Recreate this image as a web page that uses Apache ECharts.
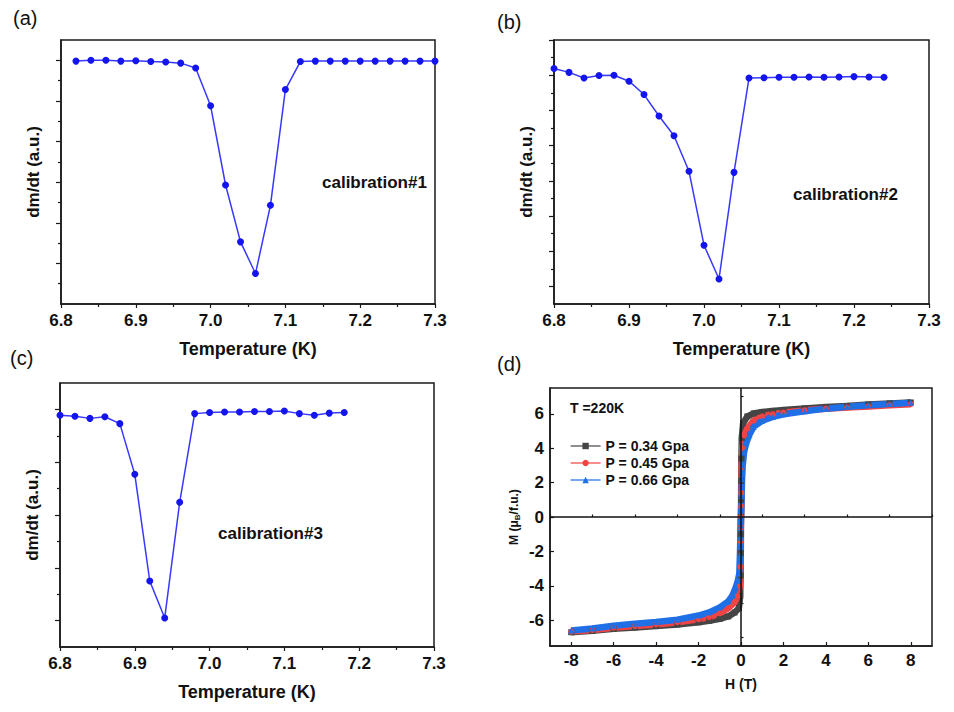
<!DOCTYPE html>
<html>
<head>
<meta charset="utf-8">
<title>dm/dt calibration and M(H)</title>
<script src="https://cdn.jsdelivr.net/npm/echarts@6/dist/echarts.min.js"></script>
<style>html,body{margin:0;padding:0;background:#fff;}</style>
</head>
<body>
<div id="main" style="width:954px;height:712px;"></div>
<script>
// ---- data ----
// (a) calibration#1
var tempA = [6.82, 6.84, 6.86, 6.88, 6.90, 6.92, 6.94, 6.96, 6.98, 7.00, 7.02, 7.04, 7.06,
             7.08, 7.10, 7.12, 7.14, 7.16, 7.18, 7.20, 7.22, 7.24, 7.26, 7.28, 7.30];
var dmdtA = [5.98, 6.00, 6.00, 5.98, 5.99, 5.97, 5.96, 5.93, 5.81, 4.88, 2.93, 1.53, 0.75,
             2.43, 5.28, 5.97, 5.98, 5.98, 5.98, 5.98, 5.98, 5.98, 5.98, 5.98, 5.98];
// (b) calibration#2
var tempB = [6.80, 6.82, 6.84, 6.86, 6.88, 6.90, 6.92, 6.94, 6.96, 6.98, 7.00, 7.02,
             7.04, 7.06, 7.08, 7.10, 7.12, 7.14, 7.16, 7.18, 7.20, 7.22, 7.24];
var dmdtB = [6.19, 6.08, 5.92, 5.99, 6.00, 5.83, 5.45, 4.84, 4.28, 3.27, 1.17, 0.21,
             3.24, 5.92, 5.93, 5.94, 5.94, 5.95, 5.94, 5.95, 5.96, 5.95, 5.94];
// (c) calibration#3
var tempC = [6.80, 6.82, 6.84, 6.86, 6.88, 6.90, 6.92, 6.94, 6.96, 6.98,
             7.00, 7.02, 7.04, 7.06, 7.08, 7.10, 7.12, 7.14, 7.16, 7.18];
var dmdtC = [3.89, 3.87, 3.83, 3.86, 3.73, 2.77, 0.75, 0.05, 2.24, 3.92,
             3.94, 3.95, 3.95, 3.96, 3.96, 3.97, 3.92, 3.89, 3.93, 3.94];

// (d) M(H) at T=220K
var field034 = [-8, -7, -6, -5, -4, -3, -2, -1.5, -1, -0.6, -0.3, -0.1, -0.04, -0.02, -0.01, -0.005,
                0, 0.005, 0.01, 0.02, 0.04, 0.1, 0.3, 0.6, 1, 1.5, 2, 3, 4, 5, 6, 7, 8];
var moment034 = [-6.70, -6.62, -6.50, -6.42, -6.34, -6.25, -6.12, -6.04, -5.92, -5.78, -5.55, -5.30, -4.60, -3.40, -2.10, -1.00,
                 0, 1.00, 2.10, 3.40, 4.60, 5.45, 5.85, 6.02, 6.10, 6.17, 6.22, 6.31, 6.39, 6.46, 6.54, 6.60, 6.66];
var field045 = [-8, -7, -6, -5, -4, -3, -2, -1.5, -1, -0.6, -0.3, -0.15, -0.06, -0.03, -0.02, -0.01,
                0, 0.01, 0.02, 0.03, 0.06, 0.15, 0.3, 0.6, 1, 1.5, 2, 3, 4, 5, 6, 7, 8];
var moment045 = [-6.66, -6.57, -6.44, -6.34, -6.25, -6.12, -5.95, -5.82, -5.60, -5.30, -4.95, -4.60, -4.00, -2.90, -1.40, -0.60,
                 0, 0.60, 1.40, 2.90, 4.00, 4.75, 5.15, 5.60, 5.85, 5.98, 6.07, 6.20, 6.30, 6.36, 6.43, 6.50, 6.56];
var field066 = [-8, -7, -6, -5, -4, -3, -2, -1.5, -1, -0.6, -0.4, -0.25, -0.15, -0.08, -0.05, -0.03, -0.015,
                0, 0.015, 0.03, 0.05, 0.08, 0.15, 0.25, 0.4, 0.6, 1, 1.5, 2, 3, 4, 5, 6, 7, 8];
var moment066 = [-6.60, -6.48, -6.32, -6.20, -6.10, -5.97, -5.73, -5.55, -5.25, -4.90, -4.55, -4.10, -3.70, -3.30, -2.20, -1.20, -0.50,
                 0, 0.50, 1.20, 2.20, 3.00, 3.80, 4.30, 4.80, 5.25, 5.60, 5.82, 5.97, 6.15, 6.30, 6.41, 6.50, 6.57, 6.64];

var legendNames = ['P = 0.34 Gpa', 'P = 0.45 Gpa', 'P = 0.66 Gpa'];
var fieldTicks = [-8, -6, -4, -2, 0, 2, 4, 6, 8];
var fieldMinor = [-9, -7, -5, -3, -1, 1, 3, 5, 7, 9];
var momentTicks = [-6, -4, -2, 0, 2, 4, 6];
var momentMinor = [-7, -5, -3, -1, 1, 3, 5, 7];

var FONT = '"Liberation Sans", Arial, sans-serif';
var AXIS = '#1a1a1a';

function zip(xs, ys) {
  var out = [];
  for (var i = 0; i < xs.length; i++) out.push([xs[i], ys[i]]);
  return out;
}

// temperature x axis used by panels a-c
function tempAxis(g) {
  return {
    gridIndex: g, type: 'value', min: 6.8, max: 7.3, interval: 0.1,
    name: 'Temperature (K)', nameLocation: 'middle', nameGap: 36,
    nameTextStyle: { fontFamily: FONT, fontWeight: 'bold', fontSize: 18, color: '#111' },
    axisLine: { onZero: false, lineStyle: { color: AXIS, width: 1.5 } },
    axisTick: { length: 4, lineStyle: { color: AXIS, width: 1.2 } },
    minorTick: { show: true, splitNumber: 2, length: 3, lineStyle: { color: AXIS, width: 1.2 } },
    axisLabel: { margin: 8, fontFamily: FONT, fontWeight: 'bold', fontSize: 17, color: '#111',
                 formatter: function (v) { return v.toFixed(1); } },
    splitLine: { show: false }
  };
}

// dm/dt y axis (no labels) + an overlay axis that only carries the short ticks
function dmdtAxes(g, lo, hi, major, minor) {
  return [{
    gridIndex: g, type: 'value', min: lo, max: hi, interval: 0.5,
    name: 'dm/dt (a.u.)', nameLocation: 'middle', nameGap: 19, nameRotate: 90,
    nameTextStyle: { fontFamily: FONT, fontWeight: 'bold', fontSize: 17, color: '#111' },
    axisLine: { onZero: false, lineStyle: { color: AXIS, width: 1.5 } },
    axisTick: { length: 5, customValues: major, lineStyle: { color: AXIS, width: 1.2 } },
    axisLabel: { show: false },
    splitLine: { show: false }
  }, {
    gridIndex: g, type: 'value', min: lo, max: hi, interval: 0.5, position: 'left',
    axisLine: { show: false },
    axisTick: { length: 3, customValues: minor, lineStyle: { color: AXIS, width: 1.2 } },
    axisLabel: { show: false },
    splitLine: { show: false }
  }];
}

function calSeries(g, ya, xs, ys) {
  return {
    type: 'line', xAxisIndex: g, yAxisIndex: ya, data: zip(xs, ys),
    symbol: 'circle', symbolSize: 7, clip: false,
    itemStyle: { color: '#1414ee' },
    lineStyle: { color: '#3838ff', width: 1.5 }
  };
}

var box = { show: true, borderColor: AXIS, borderWidth: 1.5, backgroundColor: 'transparent',
            containLabel: false, outerBoundsMode: 'none' };

var yA = dmdtAxes(0, 0, 6.5, [1, 2, 3, 4, 5, 6], [0.5, 1.5, 2.5, 3.5, 4.5, 5.5]);
var yB = dmdtAxes(1, -0.5, 7, [0, 1, 2, 3, 4, 5, 6, 7], [0.5, 1.5, 2.5, 3.5, 4.5, 5.5, 6.5]);
var yC = dmdtAxes(2, -0.5, 4.5, [0, 1, 2, 3, 4], [0.5, 1.5, 2.5, 3.5]);

var symbols = ['rect', 'circle', 'triangle'];
var colors = ['#454545', '#f04444', '#1f6fe6'];
var fields = [field034, field045, field066];
var moments = [moment034, moment045, moment066];
var mhSeries = [];
for (var k = 0; k < 3; k++) {
  mhSeries.push({
    name: legendNames[k], type: 'line', xAxisIndex: 3, yAxisIndex: 6,
    data: zip(fields[k], moments[k]),
    symbol: symbols[k], symbolSize: 6,
    itemStyle: { color: colors[k] },
    lineStyle: { color: colors[k], width: 6.5 }
  });
}
// zero lines
mhSeries[0].markLine = {
  silent: true, symbol: ['none', 'none'], label: { show: false },
  lineStyle: { color: '#111', width: 1.5, type: 'solid' },
  data: [{ xAxis: 0 }, { yAxis: 0 }]
};

var myChart = echarts.init(document.getElementById('main'), null, { renderer: 'svg' });

var option = {
  animation: false,
  backgroundColor: '#fff',
  grid: [
    Object.assign({ left: 61, top: 40, width: 374, height: 264 }, box),
    Object.assign({ left: 554, top: 40, width: 375, height: 264 }, box),
    Object.assign({ left: 60, top: 383, width: 374, height: 264 }, box),
    Object.assign({ left: 550, top: 388, width: 382, height: 258 }, box)
  ],
  xAxis: [
    tempAxis(0), tempAxis(1), tempAxis(2),
    {
      gridIndex: 3, type: 'value', min: -9, max: 9, interval: 1,
      name: 'H (T)', nameLocation: 'middle', nameGap: 31,
      nameTextStyle: { fontFamily: FONT, fontWeight: 'bold', fontSize: 14, color: '#111' },
      axisLine: { onZero: false, lineStyle: { color: AXIS, width: 1.5 } },
      axisTick: { inside: true, length: 4, customValues: fieldTicks, lineStyle: { color: AXIS, width: 1.2 } },
      axisLabel: { customValues: fieldTicks, margin: 6, fontFamily: FONT, fontWeight: 'bold', fontSize: 17, color: '#111' },
      splitLine: { show: false }
    },
    {
      gridIndex: 3, type: 'value', min: -9, max: 9, interval: 1, position: 'bottom',
      axisLine: { show: false },
      axisTick: { inside: true, length: 2.5, customValues: fieldMinor, lineStyle: { color: AXIS, width: 1.2 } },
      axisLabel: { show: false },
      splitLine: { show: false }
    }
  ],
  yAxis: [
    yA[0], yA[1], yB[0], yB[1], yC[0], yC[1],
    {
      gridIndex: 3, type: 'value', min: -7.5, max: 7.5, interval: 0.5,
      name: 'M (μ{sub|B}/f.u.)', nameLocation: 'middle', nameGap: 29, nameRotate: 90,
      nameTextStyle: { fontFamily: FONT, fontWeight: 'bold', fontSize: 12, color: '#111',
        rich: { sub: { fontFamily: FONT, fontWeight: 'bold', fontSize: 8, color: '#111', padding: [6, 0, 0, 0] } } },
      axisLine: { onZero: false, lineStyle: { color: AXIS, width: 1.5 } },
      axisTick: { inside: true, length: 4, customValues: momentTicks, lineStyle: { color: AXIS, width: 1.2 } },
      axisLabel: { customValues: momentTicks, margin: 6, fontFamily: FONT, fontWeight: 'bold', fontSize: 17, color: '#111' },
      splitLine: { show: false }
    },
    {
      gridIndex: 3, type: 'value', min: -7.5, max: 7.5, interval: 0.5, position: 'left',
      axisLine: { show: false },
      axisTick: { inside: true, length: 2.5, customValues: momentMinor, lineStyle: { color: AXIS, width: 1.2 } },
      axisLabel: { show: false },
      splitLine: { show: false }
    }
  ],
  legend: {
    data: legendNames, orient: 'vertical', left: 565, top: 434,
    itemWidth: 30, itemHeight: 8, itemGap: 3,
    lineStyle: { width: 1.2 },
    textStyle: { fontFamily: FONT, fontWeight: 'bold', fontSize: 14, color: '#111' }
  },
  graphic: [
    { type: 'text', left: 13, top: 8, style: { text: '(a)', fontFamily: FONT, fontSize: 20, fill: '#111' } },
    { type: 'text', left: 497, top: 12, style: { text: '(b)', fontFamily: FONT, fontSize: 20, fill: '#111' } },
    { type: 'text', left: 10, top: 348, style: { text: '(c)', fontFamily: FONT, fontSize: 20, fill: '#111' } },
    { type: 'text', left: 497, top: 354, style: { text: '(d)', fontFamily: FONT, fontSize: 20, fill: '#111' } },
    { type: 'text', left: 322, top: 174, style: { text: 'calibration#1', fontFamily: FONT, fontWeight: 'bold', fontSize: 17, fill: '#111' } },
    { type: 'text', left: 793, top: 186, style: { text: 'calibration#2', fontFamily: FONT, fontWeight: 'bold', fontSize: 17, fill: '#111' } },
    { type: 'text', left: 218, top: 525, style: { text: 'calibration#3', fontFamily: FONT, fontWeight: 'bold', fontSize: 17, fill: '#111' } },
    { type: 'text', left: 570, top: 401, style: { text: 'T =220K', fontFamily: FONT, fontWeight: 'bold', fontSize: 14, fill: '#111' } }
  ],
  series: [
    calSeries(0, 0, tempA, dmdtA),
    calSeries(1, 2, tempB, dmdtB),
    calSeries(2, 4, tempC, dmdtC)
  ].concat(mhSeries)
};

myChart.setOption(option);
</script>
</body>
</html>
